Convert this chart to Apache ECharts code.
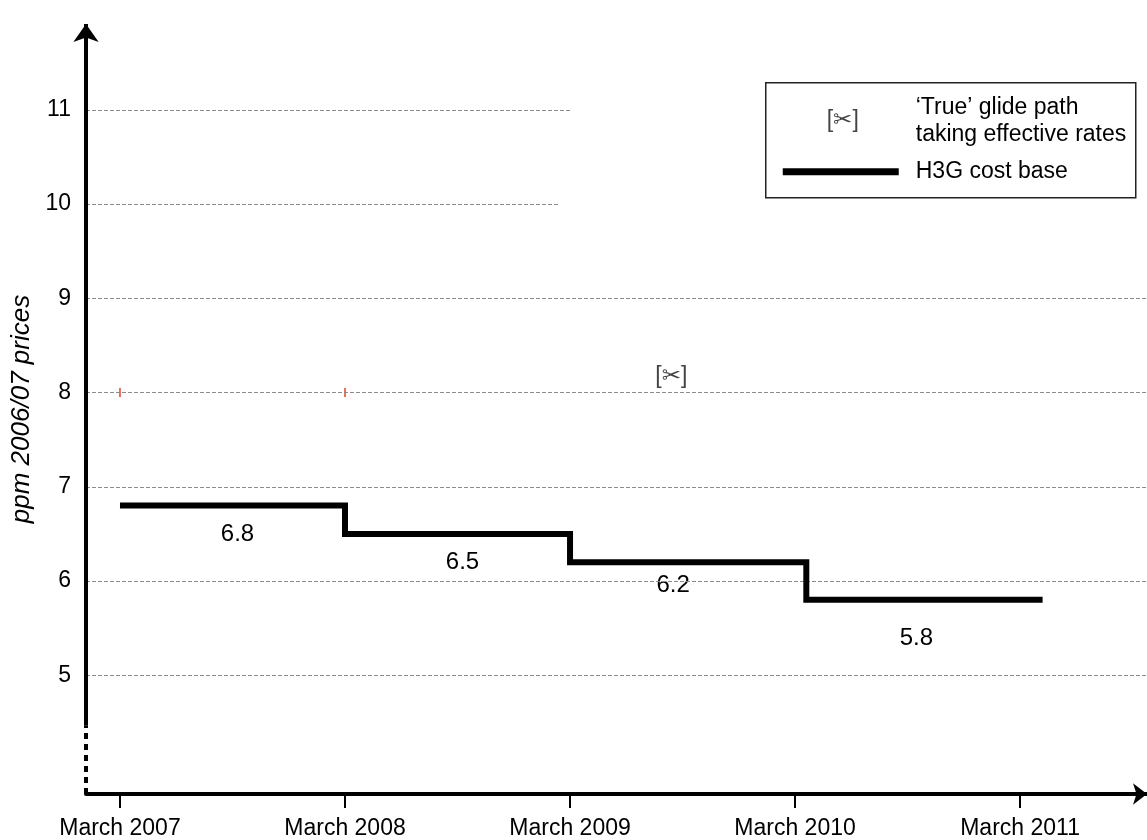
<!DOCTYPE html>
<html>
<head>
<meta charset="utf-8">
<script src="https://cdn.jsdelivr.net/npm/echarts@6/dist/echarts.min.js"></script>
<style>
  html, body { margin: 0; padding: 0; background: #fff; }
  #chart { width: 1147px; height: 840px; }
</style>
</head>
<body>
<div id="chart"></div>
<script>
// ---- data ----
const yearLabels = ['March 2007', 'March 2008', 'March 2009', 'March 2010', 'March 2011'];
const yearTicks = [0, 1, 2, 3, 4];
const yTicks = [5, 6, 7, 8, 9, 10, 11];
// H3G cost base: one level per period (start / end in years from March 2007)
const stepStart = [0, 1, 2, 3.05];
const stepEnd = [1, 2, 3.05, 4.1];
const costBase = [6.8, 6.5, 6.2, 5.8];
// 'True' glide path: only small markers and a placeholder glyph survive
const glideMarks = [[0, 8], [1, 8]];
const glidePlaceholder = [[2.45, 8.17]];
const gridLevels = [11, 10, 9, 8, 7, 6, 5];

// ---- layout ----
const X_MIN = -0.151, X_MAX = 4.564;
const Y_MIN = 3.74, Y_MAX = 11.91;
const AXIS_BREAK = 4.47;              // y axis drawn dashed below this value
const gridEndX = { 11: 2.0, 10: 1.95 }; // shorter dashed guides near the legend
const labelOffsets = [[5, 29], [5, 28], [-15, 23], [-8, 39]];
const FONT = '"Liberation Sans", Arial, "DejaVu Sans", sans-serif';
const FS = 23;

const stepPoints = stepStart.map((x, i) => [x, costBase[i]]);
stepPoints.push([stepEnd[stepEnd.length - 1], costBase[costBase.length - 1]]);

const valueLabels = costBase.map((v, i) => ({
  value: [(stepStart[i] + stepEnd[i]) / 2, v],
  label: { offset: labelOffsets[i] }
}));

const gridLines = gridLevels.map(v => [
  { coord: [X_MIN, v] },
  { coord: [gridEndX[v] !== undefined ? gridEndX[v] : X_MAX, v] }
]);

const chart = echarts.init(document.getElementById('chart'), null, { renderer: 'canvas' });

chart.setOption({
  animation: false,
  backgroundColor: '#ffffff',
  textStyle: { fontFamily: FONT },
  grid: { left: 86, right: 0, top: 24, bottom: 44, containLabel: false },
  xAxis: {
    type: 'value',
    min: X_MIN,
    max: X_MAX,
    splitLine: { show: false },
    axisLine: {
      show: true,
      symbol: ['none', 'arrow'],
      symbolSize: [16, 14],
      lineStyle: { color: '#000', width: 4 }
    },
    axisTick: {
      show: true,
      customValues: yearTicks,
      length: 14,
      lineStyle: { color: '#000', width: 2 }
    },
    axisLabel: {
      customValues: yearTicks,
      formatter: v => yearLabels[yearTicks.indexOf(v)] || '',
      color: '#000',
      fontSize: FS,
      fontFamily: FONT,
      margin: 23
    }
  },
  yAxis: {
    type: 'value',
    min: Y_MIN,
    max: Y_MAX,
    name: 'ppm 2006/07 prices',
    nameLocation: 'middle',
    nameGap: 47,
    nameTextStyle: { fontStyle: 'italic', fontSize: 26, color: '#000', fontFamily: FONT },
    splitLine: { show: false },
    axisLine: { show: false },
    axisTick: { show: false },
    axisLabel: {
      customValues: yTicks,
      color: '#000',
      fontSize: FS,
      fontFamily: FONT,
      margin: 15
    }
  },
  graphic: [
    {
      type: 'group',
      left: 765,
      top: 82,
      children: [
        { type: 'rect', shape: { x: 0, y: 0, width: 370, height: 115 },
          style: { fill: '#fff', stroke: '#222', lineWidth: 1.5 } },
        { type: 'text', x: 77, y: 38,
          style: { text: '[✂]', fontSize: FS, fontFamily: FONT, fill: '#444', align: 'center', verticalAlign: 'middle' } },
        { type: 'text', x: 150, y: 25,
          style: { text: '‘True’ glide path', fontSize: FS, fontFamily: FONT, fill: '#000', verticalAlign: 'middle' } },
        { type: 'text', x: 150, y: 52,
          style: { text: 'taking effective rates', fontSize: FS, fontFamily: FONT, fill: '#000', verticalAlign: 'middle' } },
        { type: 'line', shape: { x1: 17, y1: 89, x2: 133, y2: 89 },
          style: { stroke: '#000', lineWidth: 7 } },
        { type: 'text', x: 150, y: 89,
          style: { text: 'H3G cost base', fontSize: FS, fontFamily: FONT, fill: '#000', verticalAlign: 'middle' } }
      ]
    }
  ],
  series: [
    {
      // dashed guides and the broken y axis
      type: 'line',
      data: [],
      silent: true,
      markLine: {
        silent: true,
        symbol: 'none',
        label: { show: false },
        lineStyle: { color: '#8a8a8a', width: 1, type: [4, 2] },
        data: gridLines.concat([
          [
            { coord: [X_MIN, AXIS_BREAK], lineStyle: { color: '#000', width: 4, type: 'solid' } },
            { coord: [X_MIN, Y_MAX], symbol: 'arrow', symbolSize: [19, 18] }
          ],
          [
            { coord: [X_MIN, Y_MIN], lineStyle: { color: '#000', width: 4, type: [6, 5] } },
            { coord: [X_MIN, AXIS_BREAK] }
          ]
        ])
      }
    },
    {
      name: 'H3G cost base',
      type: 'line',
      step: 'end',
      data: stepPoints,
      symbol: 'none',
      lineStyle: { color: '#000', width: 6, join: 'miter', cap: 'butt' },
      z: 5
    },
    {
      type: 'scatter',
      data: valueLabels,
      symbolSize: 0,
      silent: true,
      itemStyle: { opacity: 1 },
      label: {
        show: true,
        position: 'inside',
        formatter: p => p.value[1].toFixed(1),
        color: '#000',
        opacity: 1,
        textBorderWidth: 0,
        textBorderColor: 'transparent',
        fontSize: FS + 1,
        fontFamily: FONT
      }
    },
    {
      name: '‘True’ glide path',
      type: 'scatter',
      data: glideMarks,
      symbol: 'rect',
      symbolSize: [1.5, 9],
      itemStyle: { color: '#e8402a', opacity: 1 },
      silent: true
    },
    {
      type: 'scatter',
      data: glidePlaceholder,
      symbolSize: 0,
      silent: true,
      itemStyle: { opacity: 1 },
      label: {
        show: true,
        position: 'inside',
        formatter: () => '[✂]',
        color: '#444',
        opacity: 1,
        textBorderWidth: 0,
        textBorderColor: 'transparent',
        fontSize: FS,
        fontFamily: FONT
      }
    }
  ]
});
</script>
</body>
</html>
